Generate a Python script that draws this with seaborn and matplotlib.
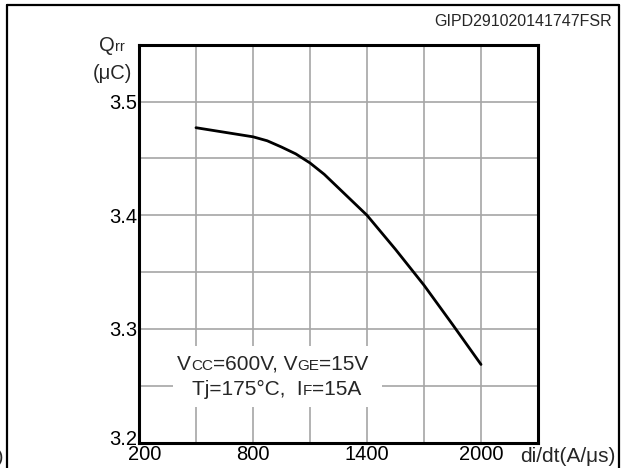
import numpy as np
import seaborn as sns
import matplotlib.pyplot as plt
from matplotlib.patches import Rectangle
from matplotlib.lines import Line2D
import matplotlib.transforms as mtrans

# data
didt = [500, 650, 800, 875, 950, 1025, 1100, 1175, 1250, 1325, 1400, 1550, 1700, 1850, 2000]
qrr = [3.477, 3.473, 3.469, 3.4655, 3.460, 3.454, 3.446, 3.436, 3.424, 3.412, 3.400,
       3.370, 3.3385, 3.304, 3.2688]

x_ticks = [200, 800, 1400, 2000]
y_ticks = [3.2, 3.3, 3.4, 3.5]
x_grid = np.arange(200, 2301, 300)
y_grid = np.arange(3.2, 3.551, 0.05)

sns.set_style("white")
plt.rcParams["font.family"] = ["Liberation Sans", "DejaVu Sans"]

W, H = 623, 468
fig = plt.figure(figsize=(W / 100, H / 100), dpi=100)
ax = fig.add_axes([139 / W, 1 - 442.7 / H, 399 / W, 398 / H])


def px(x, y):
    return x / W, 1 - y / H


sns.lineplot(x=didt, y=qrr, color="black", linewidth=2.0, ax=ax, zorder=3)

ax.set_xlim(200, 2300)
ax.set_ylim(3.2, 3.55)
ax.set_xticks(x_ticks)
ax.set_yticks(y_ticks)
ax.set_xticklabels([str(v) for v in x_ticks])
ax.set_yticklabels([f"{v:.1f}" for v in y_ticks])
for gx in x_grid:
    ax.axvline(gx, color="#a6a6a6", linewidth=1.2, zorder=0.5)
for gy in y_grid:
    ax.axhline(gy, color="#a6a6a6", linewidth=1.2, zorder=0.5)
ax.tick_params(which="both", length=0, labelsize=14.5, colors="black")
ax.tick_params(axis="y", pad=1)
ax.tick_params(axis="x", pad=2)
ax.set_xlabel("")
ax.set_ylabel("")
for sp in ax.spines.values():
    sp.set_visible(True)
    sp.set_color("black")
    sp.set_linewidth(2.2)
    sp.set_zorder(5)

# nudge the corner labels as in the reference
ax.get_xticklabels()[0].set_transform(
    ax.get_xticklabels()[0].get_transform() + mtrans.ScaledTranslation(6 / 100, 0, fig.dpi_scale_trans))
ax.get_yticklabels()[0].set_transform(
    ax.get_yticklabels()[0].get_transform() + mtrans.ScaledTranslation(0, 5 / 100, fig.dpi_scale_trans))

# white box behind the conditions text
ax.add_patch(Rectangle((379, 3.2313), 1478 - 379, 3.2849 - 3.2313,
                       facecolor="white", edgecolor="none", zorder=1))


def rich_text(x, y, parts):
    fx, fy = px(x, y)
    t = ax.annotate(parts[0][0], xy=(fx, fy), xycoords="figure fraction", va="baseline",
                    ha="left", fontsize=parts[0][1], annotation_clip=False, zorder=4)
    for s, fs in parts[1:]:
        t = ax.annotate(s, xy=(1, fy), xycoords=(t, "figure fraction"), va="baseline",
                        ha="left", fontsize=fs, annotation_clip=False, zorder=4)
    return t


rich_text(177, 370, [("V", 15), ("CC", 11), ("=600V, V", 15), ("GE", 11), ("=15V", 15)])
rich_text(192, 395, [("Tj=175°C,  I", 15), ("F", 11), ("=15A", 15)])
rich_text(99, 51, [("Q", 14.5), ("rr", 10.5)])
fig.text(*px(93, 79), "(μC)", fontsize=14.5, ha="left", va="baseline")

fig.text(*px(520, 462), "di/dt(A/μs)", fontsize=15, ha="left", va="baseline")
fig.text(*px(612, 26), "GIPD291020141747FSR", fontsize=11.5, ha="right", va="baseline")
fig.text(*px(-3, 462), ")", fontsize=14, ha="left", va="baseline")

# outer frame
for xs, ys in [((7, 619), (5, 5)), ((7, 7), (5, 470)), ((619, 619), (5, 470))]:
    fig.add_artist(Line2D([v / W for v in xs], [1 - v / H for v in ys],
                          color="black", linewidth=1.6))

fig.savefig("out.png", dpi=100)
